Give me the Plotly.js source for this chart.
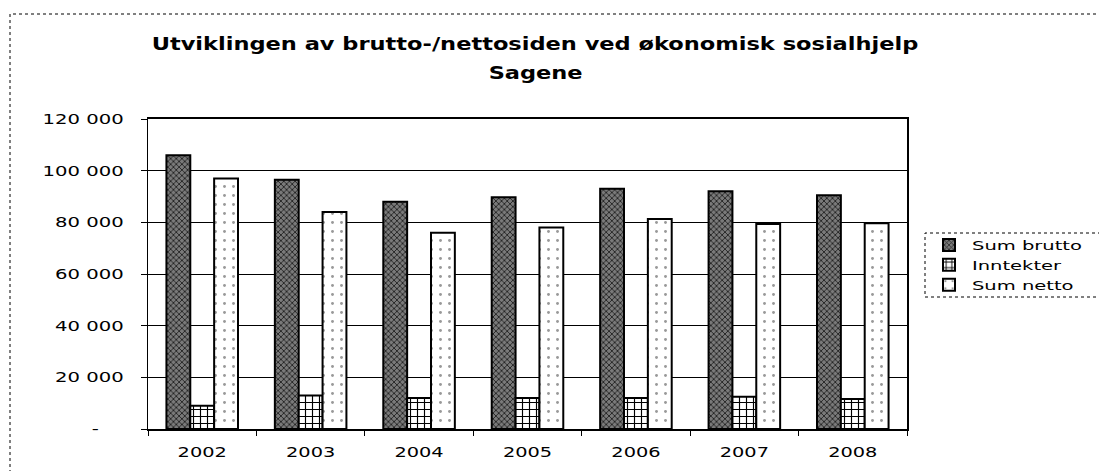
<!DOCTYPE html>
<html>
<head>
<meta charset="utf-8">
<script src="https://cdn.plot.ly/plotly-3.0.1.min.js"></script>
<style>
html, body { margin: 0; padding: 0; background: #fff; }
#chart { width: 1099px; height: 471px; }
</style>
</head>
<body>
<div id="chart"></div>
<script>
const years = ['2002', '2003', '2004', '2005', '2006', '2007', '2008'];
const sumBrutto = [106000, 96500, 88000, 89700, 93000, 92000, 90500];
const inntekter = [9000, 13000, 12000, 12000, 12000, 12500, 11600];
const sumNetto = [97000, 84000, 76000, 78000, 81300, 79400, 79600];
const yTickVals = [0, 20000, 40000, 60000, 80000, 100000, 120000];
const yTickText = ['-\u00a0\u00a0\u00a0\u00a0', '20 000', '40 000', '60 000', '80 000', '100 000', '120 000'];
const titleLine1 = 'Utviklingen av brutto-/nettosiden ved økonomisk sosialhjelp';
const titleLine2 = 'Sagene';

const barLine = { color: '#000', width: 2 };

const traces = [
  {
    type: 'bar', name: 'Sum brutto', x: years, y: sumBrutto,
    marker: { color: '#5a5a5a', line: barLine,
      pattern: { shape: 'x', fgcolor: '#222', bgcolor: '#7a7a7a', size: 4, solidity: 0.4 } }
  },
  {
    type: 'bar', name: 'Inntekter', x: years, y: inntekter,
    marker: { color: '#fff', line: barLine,
      pattern: { shape: '+', fgcolor: '#000', bgcolor: '#fff', size: 7, solidity: 0.3 } }
  },
  {
    type: 'bar', name: 'Sum netto', x: years, y: sumNetto,
    marker: { color: '#fff', line: barLine,
      pattern: { shape: '.', fgcolor: '#999', bgcolor: '#fff', size: 9, solidity: 0.08 } }
  }
];

const W = 1099, H = 471;
const L = 148, R = 1099 - 907, T = 119, B = 471 - 429;
const plotW = W - L - R, plotH = H - T - B;
const px2x = p => (p - L) / plotW;
const py2y = p => (H - B - p) / plotH;
const titleFont = { family: 'DejaVu Sans, Arial, sans-serif', size: 18, weight: 'bold', color: '#000' };

const layout = {
  width: W, height: H,
  margin: { l: L, r: R, t: T, b: B },
  paper_bgcolor: '#fff', plot_bgcolor: '#fff',
  font: { family: 'DejaVu Sans, Arial, sans-serif', color: '#000', size: 14 },
  title: {
    text: titleLine1,
    font: titleFont,
    xref: 'container', yref: 'container', x: 535 / W, xanchor: 'center',
    y: 1 - 44 / H, yanchor: 'middle'
  },
  annotations: [
    { text: titleLine2, xref: 'paper', yref: 'paper', x: px2x(535), y: py2y(72),
      xanchor: 'center', yanchor: 'middle', showarrow: false, font: titleFont }
  ],
  barmode: 'group',
  bargap: 0.34,
  bargroupgap: 0,
  showlegend: true,
  legend: {
    x: px2x(926), y: py2y(230), xanchor: 'left', yanchor: 'top',
    borderwidth: 0, bgcolor: 'rgba(0,0,0,0)',
    font: { family: 'DejaVu Sans, Arial, sans-serif', size: 13, color: '#000' },
    tracegroupgap: 2, itemwidth: 36
  },
  xaxis: {
    type: 'category', showline: true, linecolor: '#000', linewidth: 2, mirror: true,
    ticks: 'outside', tickson: 'boundaries', ticklen: 5, tickcolor: '#000',
    showgrid: false, tickfont: { size: 14 }, ticklabelstandoff: 9
  },
  yaxis: {
    range: [0, 120000], tickvals: yTickVals, ticktext: yTickText,
    showline: true, linecolor: '#000', linewidth: 1.5, mirror: true,
    ticks: 'outside', ticklen: 6, tickcolor: '#000',
    showgrid: true, gridcolor: '#000', gridwidth: 1, zeroline: false,
    tickfont: { size: 14 }, ticklabelstandoff: 14
  },
  shapes: [
    { type: 'rect', xref: 'paper', yref: 'paper',
      x0: px2x(10), x1: px2x(1120), y0: py2y(500), y1: py2y(14),
      line: { color: '#000', width: 1, dash: 'dot' }, fillcolor: 'rgba(0,0,0,0)', layer: 'below' },
    { type: 'rect', xref: 'paper', yref: 'paper',
      x0: px2x(925), x1: px2x(1110), y0: py2y(297), y1: py2y(233),
      line: { color: '#000', width: 1, dash: 'dot' }, fillcolor: 'rgba(0,0,0,0)', layer: 'below' }
  ]
};

function stretchText(root, selector, factor) {
  root.querySelectorAll(selector).forEach(el => {
    const len = el.getComputedTextLength();
    if (len > 0) {
      el.setAttribute('textLength', (len * factor).toFixed(1));
      el.setAttribute('lengthAdjust', 'spacingAndGlyphs');
    }
  });
}

Plotly.newPlot('chart', traces, layout, { displayModeBar: false, staticPlot: true }).then(gd => {
  gd.querySelectorAll('.legend [clip-path]').forEach(el => el.removeAttribute('clip-path'));
  stretchText(gd, '.ytick text', 1.4);
  stretchText(gd, '.xtick text', 1.38);
  stretchText(gd, '.legendtext', 1.5);
  stretchText(gd, '.gtitle', 1.25);
  stretchText(gd, '.annotation-text', 1.25);
});
</script>
</body>
</html>
